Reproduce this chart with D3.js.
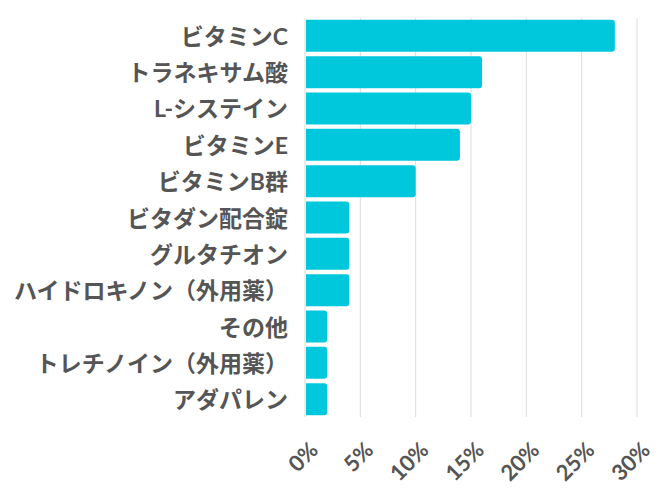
<!DOCTYPE html>
<html><head><meta charset="utf-8">
<script src="https://cdn.jsdelivr.net/npm/d3@7"></script>
<style>body{margin:0;background:#fff}</style>
</head><body>
<svg id="c" width="662" height="500"></svg>
<script>
const categories = ["ビタミンC","トラネキサム酸","L-システイン","ビタミンE","ビタミンB群","ビタダン配合錠","グルタチオン","ハイドロキノン（外用薬）","その他","トレチノイン（外用薬）","アダパレン"];
const values = [28,16,15,14,10,4,4,4,2,2,2];
const ticks = [0,5,10,15,20,25,30];

const svg = d3.select("#c");
const m = {l:305, r:25, t:18, b:83};
const W = 662, H = 500;
const x = d3.scaleLinear().domain([0,30]).range([m.l, W-m.r]);
const y = d3.scaleBand().domain(categories).range([m.t, H-m.b]).paddingInner(0.12).paddingOuter(0.05);
const font = "Lato, 'Noto Sans CJK JP', sans-serif";

svg.append("g").selectAll("line").data(ticks).join("line")
  .attr("x1",d=>x(d)).attr("x2",d=>x(d))
  .attr("y1",m.t).attr("y2",H-m.b)
  .attr("stroke","#dcdcdc").attr("stroke-width",1);

const r = 3;
svg.append("g").selectAll("path").data(values).join("path")
  .attr("fill","#00c8dc")
  .attr("d",(d,i)=>{
    const x0=x(0)+1, x1=x(d), y0=y(categories[i]), h=y.bandwidth();
    return `M${x0},${y0}H${x1-r}Q${x1},${y0} ${x1},${y0+r}V${y0+h-r}Q${x1},${y0+h} ${x1-r},${y0+h}H${x0}Z`;
  });

svg.append("g").selectAll("text").data(categories).join("text")
  .attr("x", m.l-17).attr("y", d=>y(d)+y.bandwidth()/2)
  .attr("text-anchor","end").attr("dominant-baseline","central")
  .attr("font-family",font).attr("font-weight","bold").attr("font-size",23)
  .attr("fill","#555").text(d=>d);

svg.append("g").selectAll("text").data(ticks).join("text")
  .attr("transform",d=>`translate(${x(d)+2},${H-m.b+22}) rotate(-45)`)
  .attr("text-anchor","end").attr("dominant-baseline","hanging")
  .attr("font-family",font).attr("font-weight","bold").attr("font-size",22)
  .attr("fill","#555").text(d=>d+"%");
</script>
</body></html>
